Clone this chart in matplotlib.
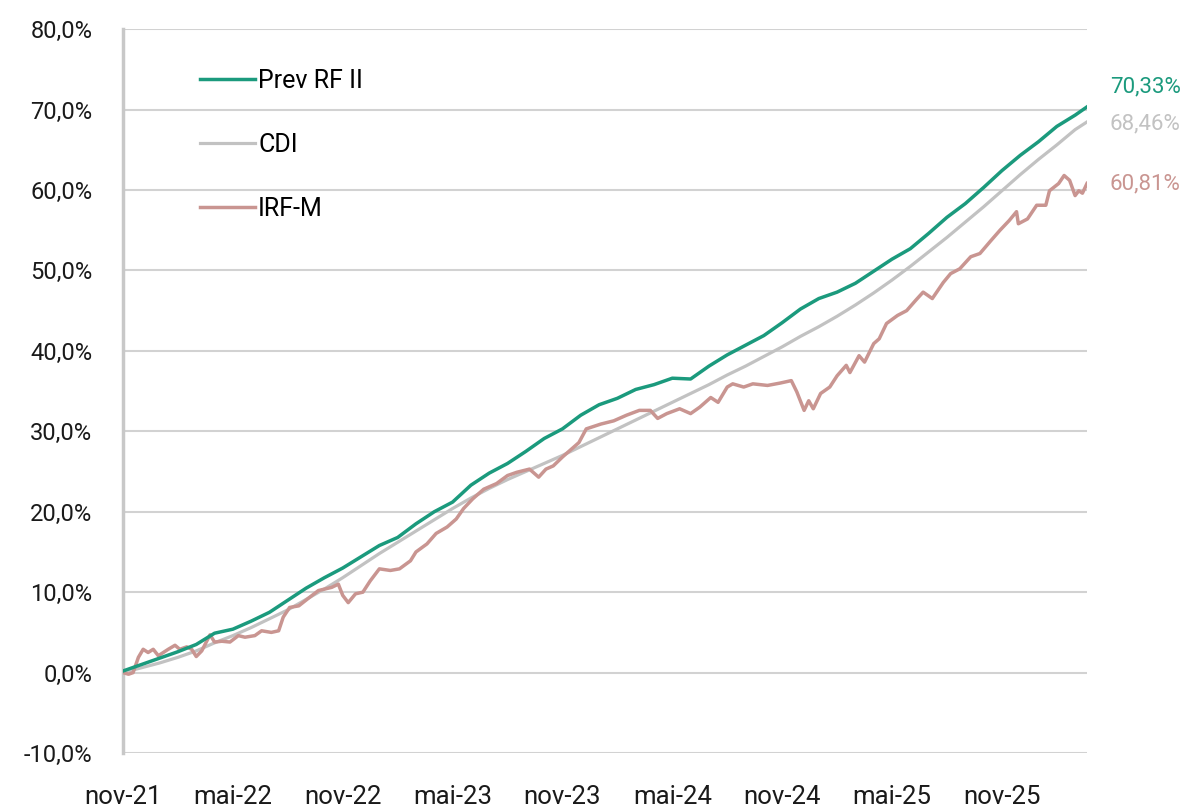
import numpy as np
import matplotlib
matplotlib.use('Agg')
import matplotlib.pyplot as plt

# months since nov-21
prev_m = [0, 1, 2, 3, 4, 5, 6, 7, 8, 9, 10, 11, 12, 13, 14, 15, 16, 17, 18, 19, 20,
          21, 22, 23, 24, 25, 26, 27, 28, 29, 30, 31, 32, 33, 34, 35, 36, 37, 38, 39,
          40, 41, 42, 43, 44, 45, 46, 47, 48, 49, 50, 51, 52, 52.65]
prev_v = [0.2, 1.0, 1.8, 2.6, 3.5, 4.9, 5.4, 6.4, 7.5, 9.0, 10.5, 11.8, 13.0, 14.4, 15.8,
          16.8, 18.5, 20.0, 21.2, 23.3, 24.8, 26.0, 27.5, 29.1, 30.3, 32.0, 33.3, 34.1,
          35.2, 35.8, 36.6, 36.5, 38.1, 39.5, 40.7, 41.9, 43.5, 45.2, 46.5, 47.3, 48.4,
          49.9, 51.4, 52.7, 54.6, 56.6, 58.3, 60.3, 62.4, 64.3, 66.0, 67.9, 69.3, 70.33]

cdi_m = prev_m
cdi_v = [0.0, 0.6, 1.2, 1.9, 2.7, 3.7, 4.6, 5.6, 6.7, 7.8, 9.1, 10.4, 11.8, 13.3, 14.8,
         16.2, 17.6, 19.0, 20.4, 21.7, 22.9, 24.0, 25.0, 26.0, 27.0, 28.1, 29.2, 30.3,
         31.4, 32.5, 33.6, 34.7, 35.8, 37.0, 38.1, 39.3, 40.5, 41.8, 43.0, 44.3, 45.7,
         47.2, 48.8, 50.5, 52.3, 54.1, 56.0, 57.9, 59.9, 61.9, 63.8, 65.6, 67.5, 68.46]

irf_m = [0, 0.3, 0.55, 0.84, 1.1, 1.37, 1.65, 1.93, 2.2, 2.47, 2.84, 3.1, 3.48, 3.75, 4.0,
         4.3, 4.75, 5.0, 5.4, 5.84, 6.3, 6.66, 7.2, 7.57, 8.1, 8.5, 8.75, 9.1, 9.6, 10.1,
         10.67, 11.4, 11.76, 12.0, 12.3, 12.7, 13.1, 13.5, 14.0, 14.6, 15.1, 15.7, 16.0,
         16.6, 17.1, 17.7, 18.2, 18.6, 19.1, 19.7, 20.4, 21.0, 21.5, 22.2, 22.7, 23.1,
         23.5, 24.0, 24.4, 24.9, 25.3, 26.1, 26.8, 27.5, 28.2, 28.8, 29.2, 29.7, 30.4,
         31.0, 31.5, 32.1, 32.5, 33.0, 33.3, 33.9, 34.4, 35.2, 35.9, 36.5, 36.8, 37.2,
         37.45, 37.7, 38.1, 38.6, 39.0, 39.5, 39.7, 40.2, 40.5, 41.0, 41.3, 41.7, 42.3,
         42.8, 43.3, 43.7, 44.2, 44.8, 45.2, 45.7, 46.3, 46.8, 47.4, 47.9, 48.4, 48.8,
         48.9, 49.4, 49.9, 50.4, 50.6, 51.1, 51.4, 51.7, 52.0, 52.2, 52.4, 52.65]
irf_v = [0.0, -0.2, 0.0, 1.9, 2.9, 2.5, 2.9, 2.1, 2.5, 2.9, 3.4, 2.9, 3.2, 2.9, 2.0,
         2.7, 4.7, 3.8, 3.9, 3.8, 4.6, 4.4, 4.6, 5.2, 5.0, 5.2, 6.9, 8.1, 8.3, 9.2,
         10.2, 10.6, 11.0, 9.6, 8.7, 9.8, 10.0, 11.4, 12.9, 12.7, 12.9, 13.9, 15.0,
         16.0, 17.3, 18.1, 19.1, 20.4, 21.6, 22.8, 23.5, 24.5, 24.9, 25.3, 24.3, 25.3,
         25.7, 26.8, 27.6, 28.6, 30.3, 30.9, 31.3, 32.0, 32.6, 32.6, 31.6, 32.2, 32.8,
         32.2, 33.0, 34.2, 33.6, 35.5, 35.9, 35.5, 35.9, 35.7, 36.0, 36.3, 34.9, 32.6,
         33.8, 32.8, 34.7, 35.5, 36.9, 38.2, 37.3, 39.4, 38.6, 40.9, 41.5, 43.4, 44.4,
         45.0, 46.3, 47.3, 46.5, 48.5, 49.6, 50.2, 51.7, 52.1, 53.7, 55.0, 56.2, 57.3,
         55.8, 56.4, 58.1, 58.1, 59.9, 60.8, 61.8, 61.2, 59.3, 59.9, 59.6, 60.81]

tick_pos = [0, 6, 12, 18, 24, 30, 36, 42, 48]
tick_lab = ['nov-21', 'mai-22', 'nov-22', 'mai-23', 'nov-23', 'mai-24', 'nov-24', 'mai-25', 'nov-25']

c_prev = '#1b9a7d'
c_cdi = '#c2c2c2'
c_irf = '#c99591'

plt.rcParams['font.family'] = ['Roboto', 'DejaVu Sans']

fig = plt.figure(figsize=(11.99, 8.08), dpi=100)
ax = fig.add_axes([0.1026, 0.068, 0.804, 0.896])

ax.plot(cdi_m, cdi_v, color=c_cdi, lw=2.3, label='CDI', zorder=3)
ax.plot(irf_m, irf_v, color=c_irf, lw=2.5, label='IRF-M', zorder=3)
ax.plot(prev_m, prev_v, color=c_prev, lw=2.5, label='Prev RF II', zorder=4)

ax.set_xlim(0, 52.65)
ax.set_ylim(-10, 80)
ax.set_yticks(np.arange(-10, 81, 10))
ax.set_yticklabels([('%.1f%%' % v).replace('.', ',') for v in np.arange(-10, 81, 10)])
ax.set_xticks(tick_pos)
ax.set_xticklabels(tick_lab)
ax.tick_params(axis='both', length=0, colors='#1a1a1a')
ax.tick_params(axis='y', pad=22, labelsize=17)
ax.tick_params(axis='x', pad=23, labelsize=18.5)

ax.grid(axis='y', color='#d2d2d2', lw=1.5)
ax.set_axisbelow(True)
for s in ['top', 'right', 'bottom']:
    ax.spines[s].set_visible(False)
ax.spines['left'].set_color('#c8c8c8')
ax.spines['left'].set_linewidth(2.5)

h, l = ax.get_legend_handles_labels()
order = [2, 0, 1]
ax.legend([h[i] for i in order], [l[i] for i in order], loc='upper left',
          bbox_to_anchor=(0.08, 0.945), frameon=False, fontsize=18,
          handlelength=2.2, handletextpad=0.12, labelspacing=1.6,
          borderaxespad=0, borderpad=0)

# end labels
ax.annotate('70,33%', xy=(1, 70.33), xycoords=('axes fraction', 'data'),
            xytext=(16.5, 14.5), textcoords='offset points', color=c_prev, fontsize=16, va='center')
ax.annotate('68,46%', xy=(1, 68.46), xycoords=('axes fraction', 'data'),
            xytext=(16.5, -1.7), textcoords='offset points', color=c_cdi, fontsize=16, va='center')
ax.annotate('60,81%', xy=(1, 60.81), xycoords=('axes fraction', 'data'),
            xytext=(16.5, 0), textcoords='offset points', color=c_irf, fontsize=16, va='center')

plt.savefig('out.png', dpi=100)
